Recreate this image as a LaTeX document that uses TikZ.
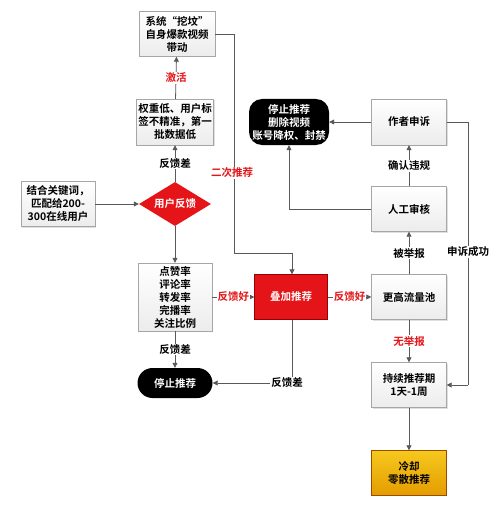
\documentclass[tikz,border=0pt]{standalone}
\usepackage{fontspec}
\setmainfont{Noto Sans CJK SC Bold}
\usetikzlibrary{shapes.geometric,arrows.meta,shadows}
\definecolor{myred}{RGB}{228,20,24}
\definecolor{goldtop}{RGB}{246,200,30}
\definecolor{goldbot}{RGB}{228,156,0}
\begin{document}
\begin{tikzpicture}[x=1pt,y=-1pt,
  every node/.style={font=\fontsize{10.5}{13}\selectfont, align=center},
  box/.style={draw=gray!70, top color=white, bottom color=gray!15, minimum width=75pt, minimum height=45pt, inner sep=1pt, drop shadow={opacity=0.25,shadow xshift=1pt,shadow yshift=-1pt}},
  pill/.style={fill=black, text=white, rounded corners=15pt, minimum width=75pt, minimum height=30pt, inner sep=1pt},
  redbox/.style={draw=red!60!black, fill=myred, text=white, minimum width=73pt, minimum height=45pt},
  goldbox/.style={draw=orange!60!black, top color=goldtop, bottom color=goldbot, minimum width=75pt, minimum height=45pt},
  conn/.style={draw=black!65, line width=0.8pt},
  arr/.style={conn, -{Triangle[length=5pt,width=5pt]}},
  lbl/.style={fill=white, inner sep=1pt},
  rlbl/.style={fill=white, inner sep=1pt, text=myred}
]
\useasboundingbox (0,0) rectangle (500,508);
\node[box, minimum width=76pt] (sys) at (177,34) {系统“挖坟”\\自身爆款视频\\带动};
\node[box, minimum width=77pt, minimum height=46pt] (weight) at (175,122) {权重低、用户标\\签不精准，第一\\批数据低};
\node[box, minimum width=74pt] (kw) at (58,204) {结合关键词，\\匹配给200-\\300在线用户};
\node[diamond, fill=myred, text=white, minimum width=72pt, minimum height=44pt, inner sep=0pt, aspect=1.6] (fb) at (175,204) {用户反馈};
\node[box, minimum width=74pt, minimum height=68pt] (met) at (175,297) {点赞率\\评论率\\转发率\\完播率\\关注比例};
\node[pill] (stop1) at (175,383) {停止推荐};
\node[redbox] (stack) at (291,297) {叠加推荐};
\node[box] (high) at (409,297) {更高流量池};
\node[box] (sus) at (409,385) {持续推荐期\\1天-1周};
\node[goldbox] (cool) at (409,473) {冷却\\零散推荐};
\node[box] (rev) at (409,209) {人工审核};
\node[box, minimum height=46pt] (app) at (409,122) {作者申诉};
\node[pill, minimum width=80pt, minimum height=46pt, rounded corners=13pt] (stop2) at (289,122) {停止推荐\\删除视频\\账号降权、封禁};

\coordinate (c1) at (234,34);
\coordinate (c2) at (234,253);
\coordinate (c3) at (292,253);
\coordinate (c4) at (292,383);
\coordinate (c5) at (289,209);
\coordinate (c6) at (468,122);
\coordinate (c7) at (468,385);

\draw[arr] (kw) -- (fb);
\draw[arr] (fb) -- node[lbl]{反馈差} (weight);
\draw[arr] (weight) -- node[rlbl]{激活} (sys);
\draw[conn] (sys.east) -- (c1) -- (c2);
\draw[arr] (c2) -- (c3) -- (stack.north -| c3);
\node[rlbl] (l2) at (232,173) {二次推荐};
\draw[arr] (fb) -- (met);
\draw[arr] (met) -- node[rlbl]{反馈好} (stack);
\draw[arr] (stack) -- node[rlbl]{反馈好} (high);
\draw[arr] (met) -- node[lbl]{反馈差} (stop1);
\draw[conn] (stack.south -| c4) -- (c4);
\draw[arr] (c4) -- (stop1.east);
\node[lbl] (l3) at (287,383) {反馈差};
\draw[arr] (high) -- node[lbl]{被举报} (rev);
\draw[arr] (rev) -- node[lbl]{确认违规} (app);
\draw[arr] (rev.west) -- (c5) -- (stop2.south);
\draw[arr] (app) -- (stop2);
\draw[conn] (app.east) -- (c6) -- (c7);
\draw[arr] (c7) -- (sus.east);
\node[lbl] (l4) at (468,252) {申诉成功};
\draw[arr] (high) -- node[rlbl]{无举报} (sus);
\draw[arr] (sus) -- (cool);
\end{tikzpicture}
\end{document}
